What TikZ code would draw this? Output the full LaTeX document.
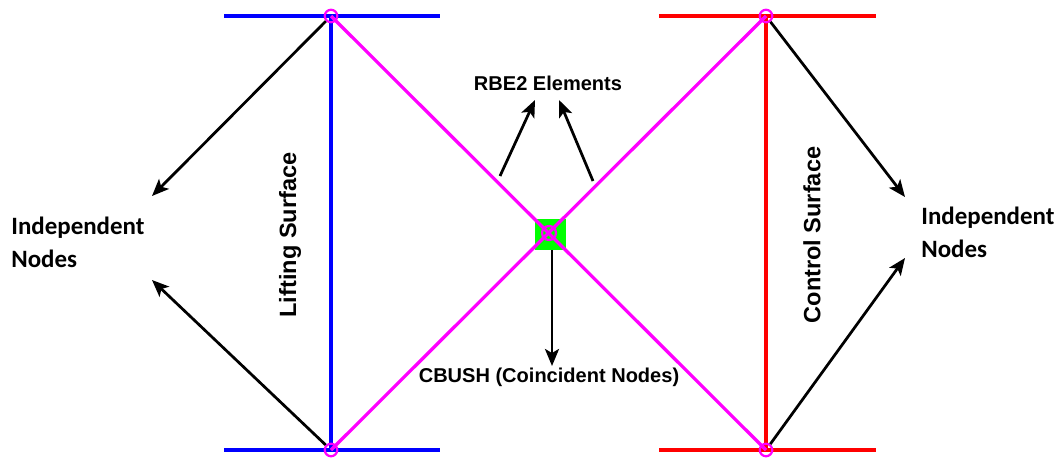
\documentclass[tikz,border=0pt]{standalone}
\usepackage{fontspec}
\setmainfont{Liberation Sans}
\newfontfamily\carlito{Carlito}
\usetikzlibrary{arrows.meta}

\definecolor{rbepink}{RGB}{255,0,255}
\definecolor{liftblue}{RGB}{0,0,255}
\definecolor{ctrlred}{RGB}{255,0,0}
\definecolor{bushgreen}{RGB}{0,255,0}

\tikzset{
  beam/.style={line width=0.065cm},
  rbe/.style={rbepink,line width=0.065cm},
  fem/.style={circle,draw=rbepink,line width=0.045cm,minimum size=0.25cm,inner sep=0pt},
  lead/.style={-{Stealth[length=0.34cm,width=0.28cm,inset=0.08cm]},line width=0.055cm},
  lbl/.style={font=\bfseries\fontsize{11.4pt}{13pt}\selectfont,inner sep=0pt},
  surf/.style={font=\bfseries\fontsize{13.4pt}{15pt}\selectfont,inner sep=0pt,rotate=90},
  indep/.style={font=\carlito\bfseries\fontsize{14.2pt}{18.8pt}\selectfont,align=left,inner sep=0pt}
}

\begin{document}
\begin{tikzpicture}[x=0.02cm,y=-0.02cm]
\useasboundingbox (0,0) rectangle (1062,457);

% grid points of the two surfaces
\coordinate (lt) at (331,16);
\coordinate (lb) at (331,450);
\coordinate (rt) at (766,16);
\coordinate (rb) at (766,450);

% lifting surface (blue) and control surface (red)
\draw[liftblue,beam] (224,16) -- (440,16);
\draw[liftblue,beam] (224,450) -- (440,450);
\draw[liftblue,beam] (lt) -- (lb);
\draw[ctrlred,beam] (659,16) -- (876,16);
\draw[ctrlred,beam] (659,450) -- (876,450);
\draw[ctrlred,beam] (rt) -- (rb);

% CBUSH between the coincident nodes
\node[fill=bushgreen,minimum size=0.62cm,inner sep=0pt] (bush) at (550,234) {};

% RBE2 elements
\draw[rbe] (lt) -- (rb);
\draw[rbe] (rt) -- (lb);

% independent nodes
\node[fem] (nlt) at (lt) {};
\node[fem] (nlb) at (lb) {};
\node[fem] (nrt) at (rt) {};
\node[fem] (nrb) at (rb) {};
\node[fem,minimum size=0.28cm] (nc) at (549,233) {};

% labels
\node[indep,anchor=west] (indL) at (11,242) {Independent\\Nodes};
\node[indep,anchor=west] (indR) at (921,232) {Independent\\Nodes};
\node[lbl,anchor=base] (rbeL) at (548,90) {RBE2 Elements};
\node[lbl,anchor=base] (cbL) at (549,382) {CBUSH (Coincident Nodes)};
\node[surf] (lift) at (290,235) {Lifting Surface};
\node[surf] (ctrl) at (812,235) {Control Surface};

% pointers
\coordinate (pL1) at (152,196);
\coordinate (pL2) at (152,280);
\coordinate (pR1) at (905,197);
\coordinate (pR2) at (905,258);
\coordinate (r1a) at (500,176);
\coordinate (r1b) at (535,100);
\coordinate (r2a) at (593,181);
\coordinate (r2b) at (559,100);
\coordinate (cb) at (552,366);
\draw[lead] (nlt) -- (pL1);
\draw[lead] (nlb) -- (pL2);
\draw[lead] (nrt) -- (pR1);
\draw[lead] (nrb) -- (pR2);
\draw[lead] (r1a) -- (r1b);
\draw[lead] (r2a) -- (r2b);
\draw[lead] (bush.south -| cb) -- (cb);
\end{tikzpicture}
\end{document}
